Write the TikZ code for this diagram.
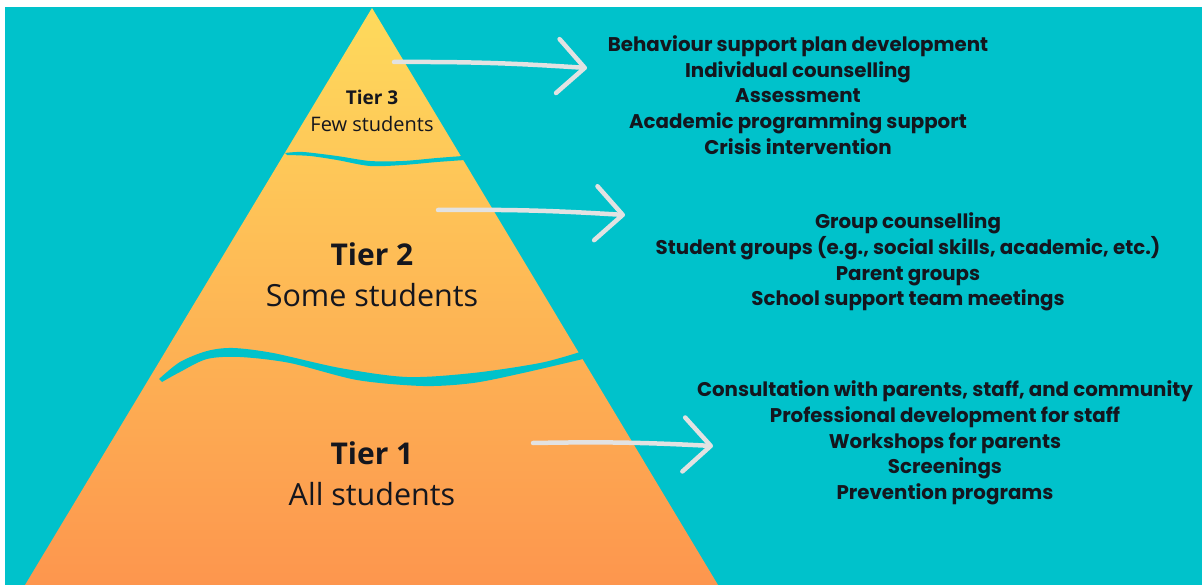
\documentclass[tikz,border=0pt]{standalone}
\usepackage{fontspec}
\setmainfont{Open Sans}
\newfontfamily\listfont{Poppins}
\usetikzlibrary{arrows.meta}

\definecolor{bgteal}{RGB}{0,194,203}
\definecolor{pyrtop}{RGB}{254,218,92}
\definecolor{pyrmid}{RGB}{252,190,86}
\definecolor{pyrbot}{RGB}{253,150,78}
\definecolor{arrowgray}{RGB}{226,226,226}
\definecolor{inkdark}{RGB}{20,22,30}

\tikzset{
  tierhead/.style={anchor=base,text=inkdark,font=\bfseries},
  tiersub/.style={anchor=base,text=inkdark},
  itemlist/.style={align=center,text=inkdark,inner sep=0pt,
    font=\listfont\bfseries\fontsize{19.8}{25.7}\selectfont},
  handarrow/.style={arrowgray,line width=4.5pt,line cap=round,
    -{Straight Barb[length=27pt,width=54pt,round]}},
}

\begin{document}
\begin{tikzpicture}[x=1pt,y=-1pt]
            \useasboundingbox (0,0) rectangle (1202,585);
            \fill[bgteal] (5,7) rectangle (1202,585);

            % pyramid
            \shade[top color=pyrtop,middle color=pyrmid,bottom color=pyrbot]
                (372,8) -- (718,585) -- (25,585) -- cycle;

            % waves between the tiers
            \fill[bgteal] plot[smooth] coordinates {(285,153) (303,152) (337,156) (370,161) (403,161) (437,158) (463,156)}
                -- plot[smooth] coordinates {(465,160) (437,162) (403,165) (370,166) (337,160) (310,156) (287,155)} -- cycle;
            \fill[bgteal] plot[smooth] coordinates {(159,379) (180,362) (207,351) (233,348) (273,353) (340,368) (407,377) (473,373) (540,363) (580,352)}
                -- plot[smooth] coordinates {(583,359) (523,373) (473,383) (423,386) (357,380) (290,363) (240,357) (207,359) (180,372) (162,382)} -- cycle;

            % tier labels
            \node (t3) at (372,105) [tierhead,font=\bfseries\fontsize{19}{23}\selectfont] {Tier 3};
            \node (t3sub) at (372,132) [tiersub,font=\fontsize{20}{24}\selectfont] {Few students};
            \node (t2) at (372,266) [tierhead,font=\bfseries\fontsize{30}{36}\selectfont] {Tier 2};
            \node (t2sub) at (372,307) [tiersub,font=\fontsize{30.5}{36}\selectfont] {Some students};
            \node (t1) at (372,464) [tierhead,font=\bfseries\fontsize{30}{36}\selectfont] {Tier 1};
            \node (t1sub) at (372,505) [tiersub,font=\fontsize{30.5}{36}\selectfont] {All students};

            % what each tier gets
            \node (list3) at (798,95) [itemlist]
                {Behaviour support plan development\\Individual counselling\\Assessment\\Academic programming support\\Crisis intervention};
            \node (list2) at (908,262) [itemlist]
                {Group counselling\\Student groups (e.g., social skills, academic, etc.)\\Parent groups\\School support team meetings};
            \node (list1) at (945,443) [itemlist]
                {Consultation with parents, staff, and community\\Professional development for staff\\Workshops for parents\\Screenings\\Prevention programs};

            % arrows
            \coordinate (from3) at (394,62);
            \coordinate (to3) at (587,68);
            \coordinate (from2) at (438,210);
            \coordinate (to2) at (625,215);
            \coordinate (from1) at (533,443);
            \coordinate (to1) at (713,446);

            \draw[handarrow] (from3) to[bend left=2] (to3);
            \draw[handarrow] (from2) to[bend left=2] (to2);
            \draw[handarrow] (from1) to[bend left=2] (to1);

        \end{tikzpicture}
\end{document}
